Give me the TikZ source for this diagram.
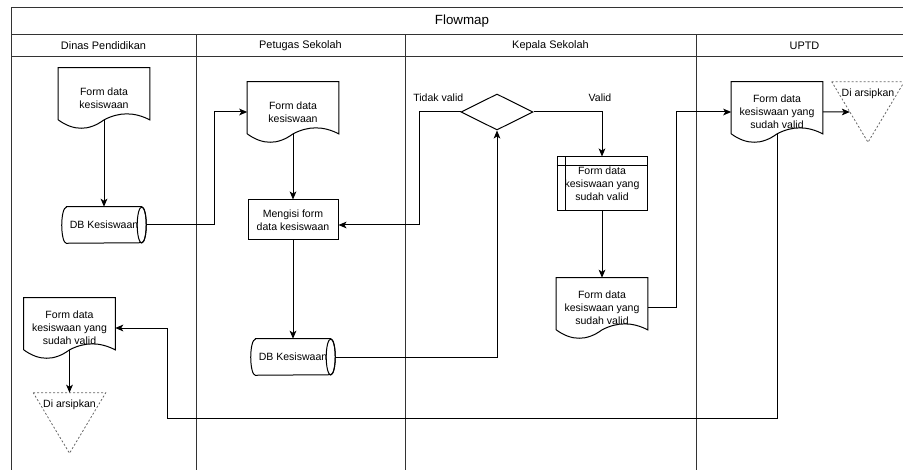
\documentclass[tikz,border=0pt]{standalone}
\usepackage{fontspec}
\setmainfont{Liberation Sans}
\usetikzlibrary{arrows.meta,calc,shapes.geometric}
\tikzset{
	line/.style={line width=0.75pt},
	lane/.style={draw=black!80, line width=0.75pt},
	conn/.style={line width=0.75pt, -{Stealth[length=6pt,width=5pt,inset=1.5pt]}},
	txt/.style={font=\fontsize{7.9}{9.75}\selectfont, align=center, inner sep=0pt},
	head/.style={font=\fontsize{8.2}{10}\selectfont, inner sep=0pt},
	docnode/.style={txt, minimum width=68.25pt, minimum height=45pt},
	dbnode/.style={txt, minimum width=63pt, minimum height=27pt},
	procnode/.style={txt, draw, line width=0.75pt, minimum width=67.5pt, minimum height=30pt},
	decision/.style={diamond, draw, line width=0.75pt, minimum width=54pt, minimum height=27pt, inner sep=0pt},
	storenode/.style={txt, draw, line width=0.75pt, minimum width=67.5pt, minimum height=40.5pt},
	arsipnode/.style={minimum width=54pt, minimum height=45pt, inner sep=0pt},
	arsipline/.style={line width=0.6pt, draw=black!60, dash pattern=on 1.5pt off 1.5pt}
}
\newcommand{\docwave}[1]{
	\draw[line] ($(#1.south west)+(0,6.3pt)$) -- (#1.north west) -- (#1.north east) -- ($(#1.south east)+(0,6.3pt)$)
		.. controls ($(#1.south)+(22.75pt,12.3pt)$) and ($(#1.south)+(11.4pt,12.3pt)$) .. ($(#1.south)+(0,6.3pt)$)
		.. controls ($(#1.south)+(-11.4pt,-2.1pt)$) and ($(#1.south)+(-22.75pt,-2.1pt)$) .. ($(#1.south west)+(0,6.3pt)$);
	\coordinate (#1-b) at ($(#1.south)+(0,6.3pt)$);
}
\newcommand{\dbdrum}[1]{
	\draw[line] ($(#1.north west)+(3.4pt,0)$) -- ($(#1.north east)+(-3.4pt,0)$) arc (90:-90:3.4pt and 13.5pt)
		-- ($(#1.south west)+(3.4pt,0)$) arc (270:90:3.4pt and 13.5pt) -- cycle;
	\draw[line] ($(#1.east)+(-3.4pt,0)$) ellipse (3.4pt and 13.5pt);
}
\newcommand{\arsip}[2]{
	\draw[arsipline] (#1.north west) -- (#1.north east) -- (#1.south) -- cycle;
	\node[txt] (#1-t) at ([yshift=-9pt]#1.north) {#2};
}

\begin{document}
\begin{tikzpicture}[x=0.75pt, y=-0.75pt]
	\useasboundingbox (0,0) rectangle (903,470);
	\clip (0,0) rectangle (903,470);
%
	\draw[lane] (11,470) -- (11,8) -- (913,8) -- (913,470);
	\draw[lane] (11,35) -- (913,35);
	\draw[lane] (11,57) -- (913,57);
	\foreach \x in {196,405,696}
		\draw[lane] (\x,35) -- (\x,470);
	\node[font=\fontsize{10}{12}\selectfont, inner sep=0pt] (ttl) at (462,21.5) {Flowmap};
	\node[head] (hd1) at (103.5,46) {Dinas Pendidikan};
	\node[head] (hd2) at (300.5,46) {Petugas Sekolah};
	\node[head] (hd3) at (550.5,46) {Kepala Sekolah};
	\node[head] (hd4) at (804.5,46) {UPTD};
%
	\node[docnode] (doc1) at (104,98) {Form data\\kesiswaan};
	\docwave{doc1}
	\node[dbnode] (db1) at (104,225) {DB Kesiswaan};
	\dbdrum{db1}
	\node[docnode] (doc2) at (293,112) {Form data\\kesiswaan};
	\docwave{doc2}
	\node[procnode] (proc) at (293,220) {Mengisi form\\data kesiswaan};
	\node[dbnode] (db2) at (293,357) {DB Kesiswaan};
	\dbdrum{db2}
	\node[decision] (dia) at (497,112) {};
	\node[storenode] (store) at (602,184) {Form data\\kesiswaan yang\\sudah valid};
	\draw[line] ($(store.north west)+(6.75pt,0)$) -- ($(store.south west)+(6.75pt,0)$);
	\draw[line] ($(store.north west)+(0,-6.75pt)$) -- ($(store.north east)+(0,-6.75pt)$);
	\node[docnode] (doc3) at (602,308) {Form data\\kesiswaan yang\\sudah valid};
	\docwave{doc3}
	\node[docnode] (doc4) at (777,112) {Form data\\kesiswaan yang\\sudah valid};
	\docwave{doc4}
	\node[arsipnode] (ars1) at (868,112) {};
	\arsip{ars1}{Di arsipkan}
	\node[docnode] (doc5) at (69.5,328) {Form data\\kesiswaan yang\\sudah valid};
	\docwave{doc5}
	\node[arsipnode] (ars2) at (69.5,423) {};
	\arsip{ars2}{Di arsipkan}
	\node[txt, anchor=west] (tdk) at (413,98) {Tidak valid};
	\node[txt] (vld) at (600,98) {Valid};
%
	\draw[conn] (doc1-b) -- (db1.north);
	\draw[conn] (db1.east) -- ++(68,0) |- (doc2.west);
	\draw[conn] (doc2-b) -- (proc.north);
	\draw[conn] (proc.south) -- (db2.north);
	\draw[conn] (db2.east) -| (dia.south);
	\draw[conn] (dia.west) -- ++(-41,0) |- (proc.east |- db1.east);
	\draw[conn] (dia.east) -| (store.north);
	\draw[conn] (store.south) -- (doc3.north);
	\draw[conn] (doc3.east) -- ++(29,0) |- (doc4.west);
	\draw[conn] (doc4.east) -- ($(ars1.north west)!.5!(ars1.south)$);
	\coordinate (back) at (167,418);
	\draw[conn] (doc4-b) |- (back) |- (doc5.east);
	\draw[conn] (doc5-b) -- (ars2.north);
\end{tikzpicture}
\end{document}
